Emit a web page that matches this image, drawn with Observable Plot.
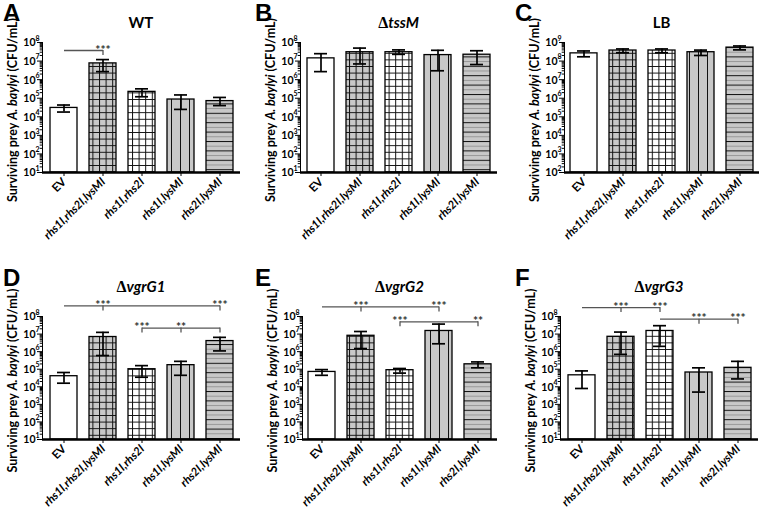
<!DOCTYPE html>
<html><head><meta charset="utf-8">
<script src="https://cdn.jsdelivr.net/npm/d3@7"></script>
<script src="https://cdn.jsdelivr.net/npm/@observablehq/plot@0.6"></script>
<style>
body{margin:0;background:#fff;}
#fig{position:relative;width:760px;height:512px;overflow:hidden;background:#fff;}
.panel{position:absolute;}
.panel [aria-label="y-axis"] path.domain{stroke-width:3px;}
.panel [aria-label="y-axis"] .tick line{stroke-width:1.5px;}
.panel [aria-label="x-axis"] .tick line{stroke-width:1.5px;}
</style></head><body><div id="fig"></div>
<script>
// ---------- data ----------
const categories = ["EV", "rhs1I,rhs2I,lysMI", "rhs1I,rhs2I", "rhs1I,lysMI", "rhs2I,lysMI"];
const yAxisLabel = ["Surviving prey ", "A. baylyi", " (CFU/mL)"];
const panelLetters = ["A", "B", "C", "D", "E", "F"];
const panelTitles = [["", "WT", false], ["Δ", "tssM", true], ["", "LB", false], ["Δ", "vgrG1", true], ["Δ", "vgrG2", true], ["Δ", "vgrG3", true]];
const ticks1to8 = [1e1, 1e2, 1e3, 1e4, 1e5, 1e6, 1e7, 1e8];
const ticks2to9 = [1e2, 1e3, 1e4, 1e5, 1e6, 1e7, 1e8, 1e9];

const meanWT = [3.0e4, 7.5e6, 2.2e5, 8.5e4, 7.0e4];
const lowWT  = [1.8e4, 2.7e6, 1.2e5, 2.5e4, 4.0e4];
const highWT = [4.3e4, 1.2e7, 3.2e5, 1.5e5, 1.1e5];

const meanTssM = [1.4e7, 3.0e7, 3.0e7, 2.1e7, 2.2e7];
const lowTssM  = [2.7e6, 7.0e6, 2.3e7, 3.0e6, 6.5e6];
const highTssM = [2.5e7, 5.0e7, 4.0e7, 3.8e7, 3.6e7];

const meanLB = [2.6e8, 3.7e8, 3.7e8, 3.0e8, 5.3e8];
const lowLB  = [1.7e8, 2.8e8, 2.8e8, 2.0e8, 4.0e8];
const highLB = [3.5e8, 4.5e8, 4.5e8, 3.9e8, 6.5e8];

const meanG1 = [4.0e4, 6.8e6, 1.0e5, 1.7e5, 4.0e6];
const lowG1  = [1.6e4, 6.0e5, 3.5e4, 4.5e4, 1.1e6];
const highG1 = [6.5e4, 1.25e7, 1.6e5, 2.8e5, 6.5e6];

const meanG2 = [7.0e4, 8.0e6, 8.8e4, 1.5e7, 1.9e5];
const lowG2  = [4.5e4, 1.5e6, 6.0e4, 2.8e6, 1.2e5];
const highG2 = [9.5e4, 1.4e7, 1.1e5, 3.7e7, 2.6e5];

const meanG3 = [4.5e4, 7.0e6, 1.5e7, 6.5e4, 1.2e5];
const lowG3  = [8.0e3, 7.0e5, 2.0e6, 5.0e3, 2.8e4];
const highG3 = [8.0e4, 1.3e7, 3.0e7, 1.2e5, 2.8e5];

// significance brackets (y = bracket height in CFU/mL units)
const sigWT = [
  {from: "EV", to: "rhs1I,rhs2I,lysMI", y: 3.7e7, ticks: ["rhs1I,rhs2I,lysMI"], stars: [["rhs1I,rhs2I,lysMI", "***"]]}
];
const sigTssM = [];
const sigLB = [];
const sigG1 = [
  {from: "EV", to: "rhs2I,lysMI", y: 4.0e8, ticks: ["rhs1I,rhs2I,lysMI", "rhs2I,lysMI"], stars: [["rhs1I,rhs2I,lysMI", "***"], ["rhs2I,lysMI", "***"]]},
  {from: "rhs1I,rhs2I", to: "rhs2I,lysMI", y: 2.2e7, ticks: ["rhs1I,rhs2I", "rhs1I,lysMI", "rhs2I,lysMI"], stars: [["rhs1I,rhs2I", "***"], ["rhs1I,lysMI", "**"]]}
];
const sigG2 = [
  {from: "EV", to: "rhs1I,lysMI", y: 3.5e8, ticks: ["rhs1I,rhs2I,lysMI", "rhs1I,lysMI"], stars: [["rhs1I,rhs2I,lysMI", "***"], ["rhs1I,lysMI", "***"]]},
  {from: "rhs1I,rhs2I", to: "rhs2I,lysMI", y: 5.0e7, ticks: ["rhs1I,rhs2I", "rhs2I,lysMI"], stars: [["rhs1I,rhs2I", "***"], ["rhs2I,lysMI", "**"]]}
];
const sigG3 = [
  {from: "EV", to: "rhs1I,rhs2I", y: 3.2e8, ticks: ["rhs1I,rhs2I,lysMI", "rhs1I,rhs2I"], stars: [["rhs1I,rhs2I,lysMI", "***"], ["rhs1I,rhs2I", "***"]]},
  {from: "rhs1I,rhs2I", to: "rhs2I,lysMI", y: 7.0e7, ticks: ["rhs1I,lysMI", "rhs2I,lysMI"], stars: [["rhs1I,lysMI", "***"], ["rhs2I,lysMI", "***"]]}
];

// ---------- styling / layout ----------
const barFills = ["white", "url(#pGridGray)", "url(#pGridWhite)", "url(#pVert)", "url(#pHoriz)"];
const layout = [
  {left: 0,   top: 0,   width: 250, height: 250, mL: 42, mR: 10, mT: 42, mB: 78},
  {left: 250, top: 0,   width: 250, height: 250, mL: 50, mR: 3,  mT: 42, mB: 78},
  {left: 500, top: 0,   width: 260, height: 250, mL: 64, mR: 1,  mT: 42, mB: 78},
  {left: 0,   top: 250, width: 250, height: 262, mL: 42, mR: 10, mT: 66, mB: 73},
  {left: 250, top: 250, width: 250, height: 262, mL: 52, mR: 3,  mT: 66, mB: 73},
  {left: 500, top: 250, width: 260, height: 262, mL: 60, mR: 2,  mT: 66, mB: 73}
];
const letterPos = [[3, 21], [255, 21], [515, 21], [3, 286], [255, 286], [515, 286]];
const titleBase = [28, 28, 28, 292, 292, 292];
const minorTick = {draw(ctx) { ctx.moveTo(-2.8, 0); ctx.lineTo(0, 0); }};

const fig = d3.select("#fig");
fig.append("svg").attr("width", 0).attr("height", 0).style("position", "absolute")
  .html(`<defs>
  <pattern id="pGridGray" patternUnits="userSpaceOnUse" width="6.6" height="6.6">
    <rect width="6.6" height="6.6" fill="#c8c8c8"/>
    <path d="M0 0.5H6.6M0.5 0V6.6" stroke="#111" stroke-width="1" fill="none"/></pattern>
  <pattern id="pGridWhite" patternUnits="userSpaceOnUse" width="6.6" height="6.6">
    <rect width="6.6" height="6.6" fill="#fff"/>
    <path d="M0 0.5H6.6M0.5 0V6.6" stroke="#111" stroke-width="1" fill="none"/></pattern>
  <pattern id="pVert" patternUnits="userSpaceOnUse" width="9" height="9">
    <rect width="9" height="9" fill="#c8c8c8"/>
    <path d="M0.5 0V9" stroke="#111" stroke-width="1" fill="none"/></pattern>
  <pattern id="pHoriz" patternUnits="userSpaceOnUse" width="9" height="9.4">
    <rect width="9" height="9.4" fill="#c8c8c8"/>
    <path d="M0 0.5H9" stroke="#111" stroke-width="1" fill="none"/>
    <path d="M0 5.2H9" stroke="#888" stroke-width="0.8" fill="none"/></pattern>
  </defs>`);

function drawPanel(i, mean, low, high, decades, sig) {
  const L = layout[i];
  const rows = categories.map((c, k) => ({cat: c, mean: mean[k], lo: low[k], hi: high[k]}));
  const ymin = decades[0], ymax = decades[decades.length - 1];
  const minors = decades.slice(0, -1).flatMap(d => [2, 3, 4, 5, 6, 7, 8, 9].map(m => d * m));
  const bLines = sig.map(s => ({from: s.from, to: s.to, y: s.y}));
  const bTicks = sig.flatMap(s => s.ticks.map(c => ({cat: c, y: s.y})));
  const bStars = sig.flatMap(s => s.stars.map(([c, t]) => ({cat: c, y: s.y, t})));
  const marks = [
    ...rows.map((r, k) => Plot.barY([r], {x: "cat", y1: () => ymin, y2: "mean", fill: barFills[k], stroke: "black", strokeWidth: 1.3})),
    Plot.ruleX(rows, {x: "cat", y1: "lo", y2: "hi", stroke: "black", strokeWidth: 1.7}),
    Plot.tickY(rows, {x: "cat", y: "hi", insetLeft: 7, insetRight: 7, stroke: "black", strokeWidth: 1.7}),
    Plot.tickY(rows, {x: "cat", y: "lo", insetLeft: 7, insetRight: 7, stroke: "black", strokeWidth: 1.7}),
    Plot.link(bLines, {x1: "from", x2: "to", y1: "y", y2: "y", stroke: "#555", strokeWidth: 1.3}),
    Plot.ruleX(bTicks, {x: "cat", y1: "y", y2: "y", insetBottom: -5, stroke: "#555", strokeWidth: 1.3}),
    Plot.text(bStars, {x: "cat", y: "y", text: "t", lineAnchor: "bottom", dy: 3, fontSize: 12, fill: "#333", fontWeight: "bold"}),
    Plot.dot(minors, {y: d => d, frameAnchor: "left", symbol: minorTick, r: 3, fill: "none", stroke: "black", strokeWidth: 1}),
    Plot.text(decades, {y: d => d, text: () => "10", frameAnchor: "left", textAnchor: "end", dx: -7, dy: 0.5, fontSize: 10.5, fontWeight: "bold"}),
    Plot.text(decades, {y: d => d, text: d => String(Math.round(Math.log10(d))), frameAnchor: "left", textAnchor: "start", dx: -7, dy: -4, fontSize: 7, fontWeight: "bold"}),
    Plot.text(rows.filter(r => r.cat === "EV"), {x: "cat", text: "cat", frameAnchor: "bottom", rotate: -45, textAnchor: "end", dx: 3, dy: 10, fontSize: 11.5, fontWeight: "bold"}),
    Plot.text(rows.filter(r => r.cat !== "EV"), {x: "cat", text: "cat", frameAnchor: "bottom", rotate: -45, textAnchor: "end", dx: 3, dy: 10, fontSize: 11.5, fontWeight: "bold", fontStyle: "italic"}),
    Plot.ruleY([ymin], {stroke: "black", strokeWidth: 2.5})
  ];
  const svg = Plot.plot({
    width: L.width, height: L.height,
    marginLeft: L.mL, marginRight: L.mR, marginTop: L.mT, marginBottom: L.mB,
    style: {fontFamily: "Lato, 'Liberation Sans', sans-serif", fontWeight: "bold", overflow: "visible", background: "none", color: "black"},
    x: {domain: categories, paddingInner: 0.32, paddingOuter: 0.16, label: null, tickSize: 4, tickFormat: () => ""},
    y: {type: "log", domain: [ymin, ymax], label: null, ticks: decades, tickSize: 5, tickFormat: () => "", line: true},
    marks
  });
  const cy = (L.mT + L.height - L.mB) / 2 + 3;
  const t = d3.select(svg).append("text")
    .attr("transform", `translate(${L.mL - 28},${cy}) rotate(-90)`)
    .attr("text-anchor", "middle").attr("dominant-baseline", "middle")
    .style("font", "bold 12.5px Lato, sans-serif").attr("fill", "black");
  yAxisLabel.forEach((s, k) => t.append("tspan").text(s).style("font-style", k === 1 ? "italic" : "normal"));
  const div = fig.append("div").attr("class", "panel").style("left", L.left + "px").style("top", L.top + "px");
  div.node().appendChild(svg);
}

drawPanel(0, meanWT, lowWT, highWT, ticks1to8, sigWT);
drawPanel(1, meanTssM, lowTssM, highTssM, ticks1to8, sigTssM);
drawPanel(2, meanLB, lowLB, highLB, ticks2to9, sigLB);
drawPanel(3, meanG1, lowG1, highG1, ticks1to8, sigG1);
drawPanel(4, meanG2, lowG2, highG2, ticks1to8, sigG2);
drawPanel(5, meanG3, lowG3, highG3, ticks1to8, sigG3);

// letters and titles
const ov = fig.append("svg").attr("width", 760).attr("height", 512)
  .style("position", "absolute").style("left", 0).style("top", 0).style("pointer-events", "none");
panelLetters.forEach((s, i) => ov.append("text").attr("x", letterPos[i][0]).attr("y", letterPos[i][1])
  .text(s).style("font", "bold 24px 'Liberation Sans', Arial, sans-serif"));
panelTitles.forEach(([d, name, ital], i) => {
  const L = layout[i];
  const cx = L.left + L.mL + (L.width - L.mL - L.mR) / 2;
  const t = ov.append("text").attr("x", cx).attr("y", titleBase[i]).attr("text-anchor", "middle")
    .style("font", "bold 15px Lato, sans-serif");
  if (d) t.append("tspan").text(d).style("font-family", "'Liberation Serif', serif").style("font-size", "16px");
  t.append("tspan").text(name).style("font-style", ital ? "italic" : "normal");
});
</script>
</body></html>
